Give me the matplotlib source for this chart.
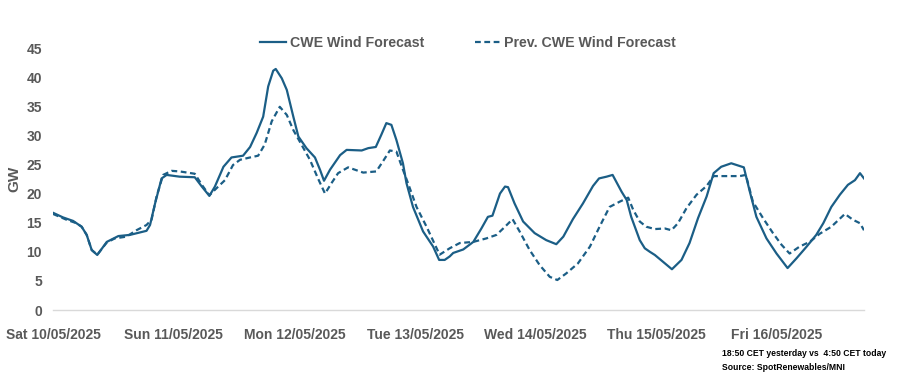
import numpy as np
import matplotlib
matplotlib.use("Agg")
import matplotlib.pyplot as plt

# hours since Sat 10/05/2025 00:00 and GW values
cwe_hours = [0, 2, 4, 5.7, 6.7, 7.7, 8.8, 10.7, 13, 15.3, 18.6, 19.3, 20.3, 21.6, 22.6,
             25.2, 28.2, 29.6, 31.1, 32.2, 33.9, 35.5, 37.8, 39.2, 40.5, 41.8, 42.8,
             43.8, 44.3, 45.5, 46.5, 47.8, 48.8, 50.4, 52.1, 53.1, 53.9, 55.1, 57.1,
             58.4, 61.4, 62.7, 64.2, 65.3, 66.3, 67.3, 68.3, 69.6, 70.3, 71.6, 73.6,
             75.6, 76.8, 77.9, 78.9, 79.6, 81.6, 83.6, 85.2, 86.5, 87.4, 88.9, 89.9,
             90.5, 91.8, 93.5, 95.8, 98.1, 100.1, 101.5, 103.4, 105.4, 107.4, 108.6,
             110.1, 111.3, 113.1, 114.1, 115.0, 116.7, 117.7, 118.7, 119.7, 121.3,
             123.1, 125.0, 126.6, 128.3, 130.0, 131.4, 132.9, 134.9, 137.4, 138.6,
             139.9, 141.9, 143.9, 146.1, 147.9, 149.9, 151.8, 153.2, 154.8, 156.5,
             158.1, 159.5, 160.5, 161.3]
cwe_gw = [16.7, 15.9, 15.3, 14.3, 12.9, 10.3, 9.45, 11.7, 12.7, 12.9, 13.6, 14.6, 18.3,
          22.6, 23.2, 22.9, 22.8, 21.2, 19.6, 21.2, 24.6, 26.2, 26.5, 28.0, 30.4, 33.2,
          38.4, 41.1, 41.4, 39.8, 37.8, 33.2, 29.8, 27.8, 26.2, 24.1, 22.2, 24.1, 26.6,
          27.5, 27.4, 27.8, 28.0, 30.1, 32.1, 31.8, 29.2, 25.2, 21.8, 17.7, 13.5, 10.9,
          8.6, 8.6, 9.2, 9.8, 10.4, 11.7, 14.0, 16.0, 16.2, 20.0, 21.2, 21.1, 18.3,
          15.2, 13.2, 12.0, 11.3, 12.6, 15.6, 18.3, 21.3, 22.6, 22.9, 23.2, 20.3, 18.9,
          16.0, 12.0, 10.6, 10.0, 9.45, 8.3, 7.0, 8.6, 11.5, 15.8, 19.5, 23.5, 24.6,
          25.2, 24.5, 20.3, 16.0, 12.3, 9.7, 7.2, 8.9, 10.9, 12.9, 14.9, 17.7, 19.8,
          21.5, 22.3, 23.5, 22.6]

prev_hours = [0, 2.7, 4.7, 5.7, 6.7, 7.7, 8.8, 10.7, 12.3, 14.6, 16.6, 18.6, 19.6, 20.6,
              21.9, 23.6, 25.2, 28.2, 29.6, 31.1, 32.5, 34.2, 35.8, 37.2, 39.2, 40.8,
              42.1, 43.5, 45.1, 46.5, 47.8, 49.1, 51.1, 52.7, 54.1, 55.4, 56.7, 58.7,
              61.7, 64.3, 65.6, 67.0, 68.3, 69.6, 70.6, 72.3, 74.3, 76.3, 76.9, 78.9,
              80.9, 83.6, 86.2, 88.2, 89.9, 91.4, 92.8, 94.8, 96.8, 98.8, 100.3, 102.1,
              104.4, 106.8, 108.7, 110.7, 112.7, 114.4, 115.4, 116.7, 118.0, 119.7,
              121.7, 123.0, 124.3, 126.0, 128.0, 130.0, 131.4, 136.6, 137.8, 139.2,
              141.2, 143.2, 144.9, 146.5, 148.5, 150.5, 152.5, 154.8, 157.5, 159.1,
              160.5, 161.3]
prev_gw = [16.5, 15.5, 14.9, 14.3, 12.9, 10.3, 9.5, 11.6, 12.3, 12.6, 13.7, 14.6, 15.5,
           19.5, 23.2, 23.9, 23.8, 23.4, 21.5, 19.7, 20.9, 22.3, 24.9, 25.8, 26.2, 26.5,
           28.4, 32.4, 34.9, 33.5, 30.9, 28.9, 25.8, 22.6, 20.0, 21.8, 23.5, 24.5, 23.6,
           23.8, 25.5, 27.4, 27.2, 24.1, 21.8, 17.7, 14.3, 10.6, 9.5, 10.6, 11.5, 11.7,
           12.3, 12.9, 14.3, 15.6, 13.5, 10.3, 7.7, 5.7, 5.15, 6.3, 8.0, 10.9, 14.3,
           17.7, 18.6, 19.3, 17.2, 15.2, 14.3, 13.9, 14.0, 13.7, 14.9, 17.5, 19.8, 21.3,
           23.0, 23.0, 23.2, 18.6, 15.8, 13.2, 11.2, 9.7, 10.9, 11.7, 13.1, 14.3, 16.5,
           15.5, 14.9, 13.7]

day_labels = ["Sat 10/05/2025", "Sun 11/05/2025", "Mon 12/05/2025", "Tue 13/05/2025",
              "Wed 14/05/2025", "Thu 15/05/2025", "Fri 16/05/2025"]
y_ticks = [0, 5, 10, 15, 20, 25, 30, 35, 40, 45]

line_color = "#1b5e86"
text_color = "#595959"
plt.rcParams["font.family"] = ["Liberation Sans", "DejaVu Sans"]

fig = plt.figure(figsize=(9.13, 3.82), dpi=100)
ax = fig.add_axes([53 / 913, 1 - 310 / 382, (864 - 53) / 913, (310 - 48) / 382])

ax.plot(cwe_hours, cwe_gw, color=line_color, lw=1.6, label="CWE Wind Forecast")
ax.plot(prev_hours, prev_gw, color=line_color, lw=1.6, ls=(0, (2.6, 1.6)),
        label="Prev. CWE Wind Forecast")

ax.set_xlim(0, 161.3)
ax.set_ylim(0, 45)
ax.set_xticks([24 * i for i in range(len(day_labels))])
ax.set_xticklabels(day_labels)
ax.set_yticks(y_ticks)
for lab in ax.get_xticklabels() + ax.get_yticklabels():
    lab.set_fontweight("bold")
    lab.set_color(text_color)
    lab.set_fontsize(10)
ax.tick_params(axis="both", length=0)
ax.tick_params(axis="x", pad=13)
ax.tick_params(axis="y", pad=8)

for s in ["top", "right", "left"]:
    ax.spines[s].set_visible(False)
ax.spines["bottom"].set_color("#d9d9d9")
ax.spines["bottom"].set_linewidth(1)

ax.set_ylabel("GW", fontsize=11, fontweight="bold", color=text_color)
ax.yaxis.set_label_coords((21 - 53) / 811, 0.5)

fig.legend(loc="center", bbox_to_anchor=(468 / 913, 1 - 43 / 382), ncol=2, frameon=False,
           handlelength=1.8, handletextpad=0.25, columnspacing=3.6,
           prop={"weight": "bold", "size": 10.2}, labelcolor=text_color)

fig.text(722 / 913, 1 - 354 / 382, "18:50 CET yesterday vs  4:50 CET today",
         fontsize=6.2, fontweight="bold", va="center", ha="left")
fig.text(722 / 913, 1 - 367 / 382, "Source: SpotRenewables/MNI",
         fontsize=6.2, fontweight="bold", va="center", ha="left")

fig.savefig("out.png", dpi=100)
